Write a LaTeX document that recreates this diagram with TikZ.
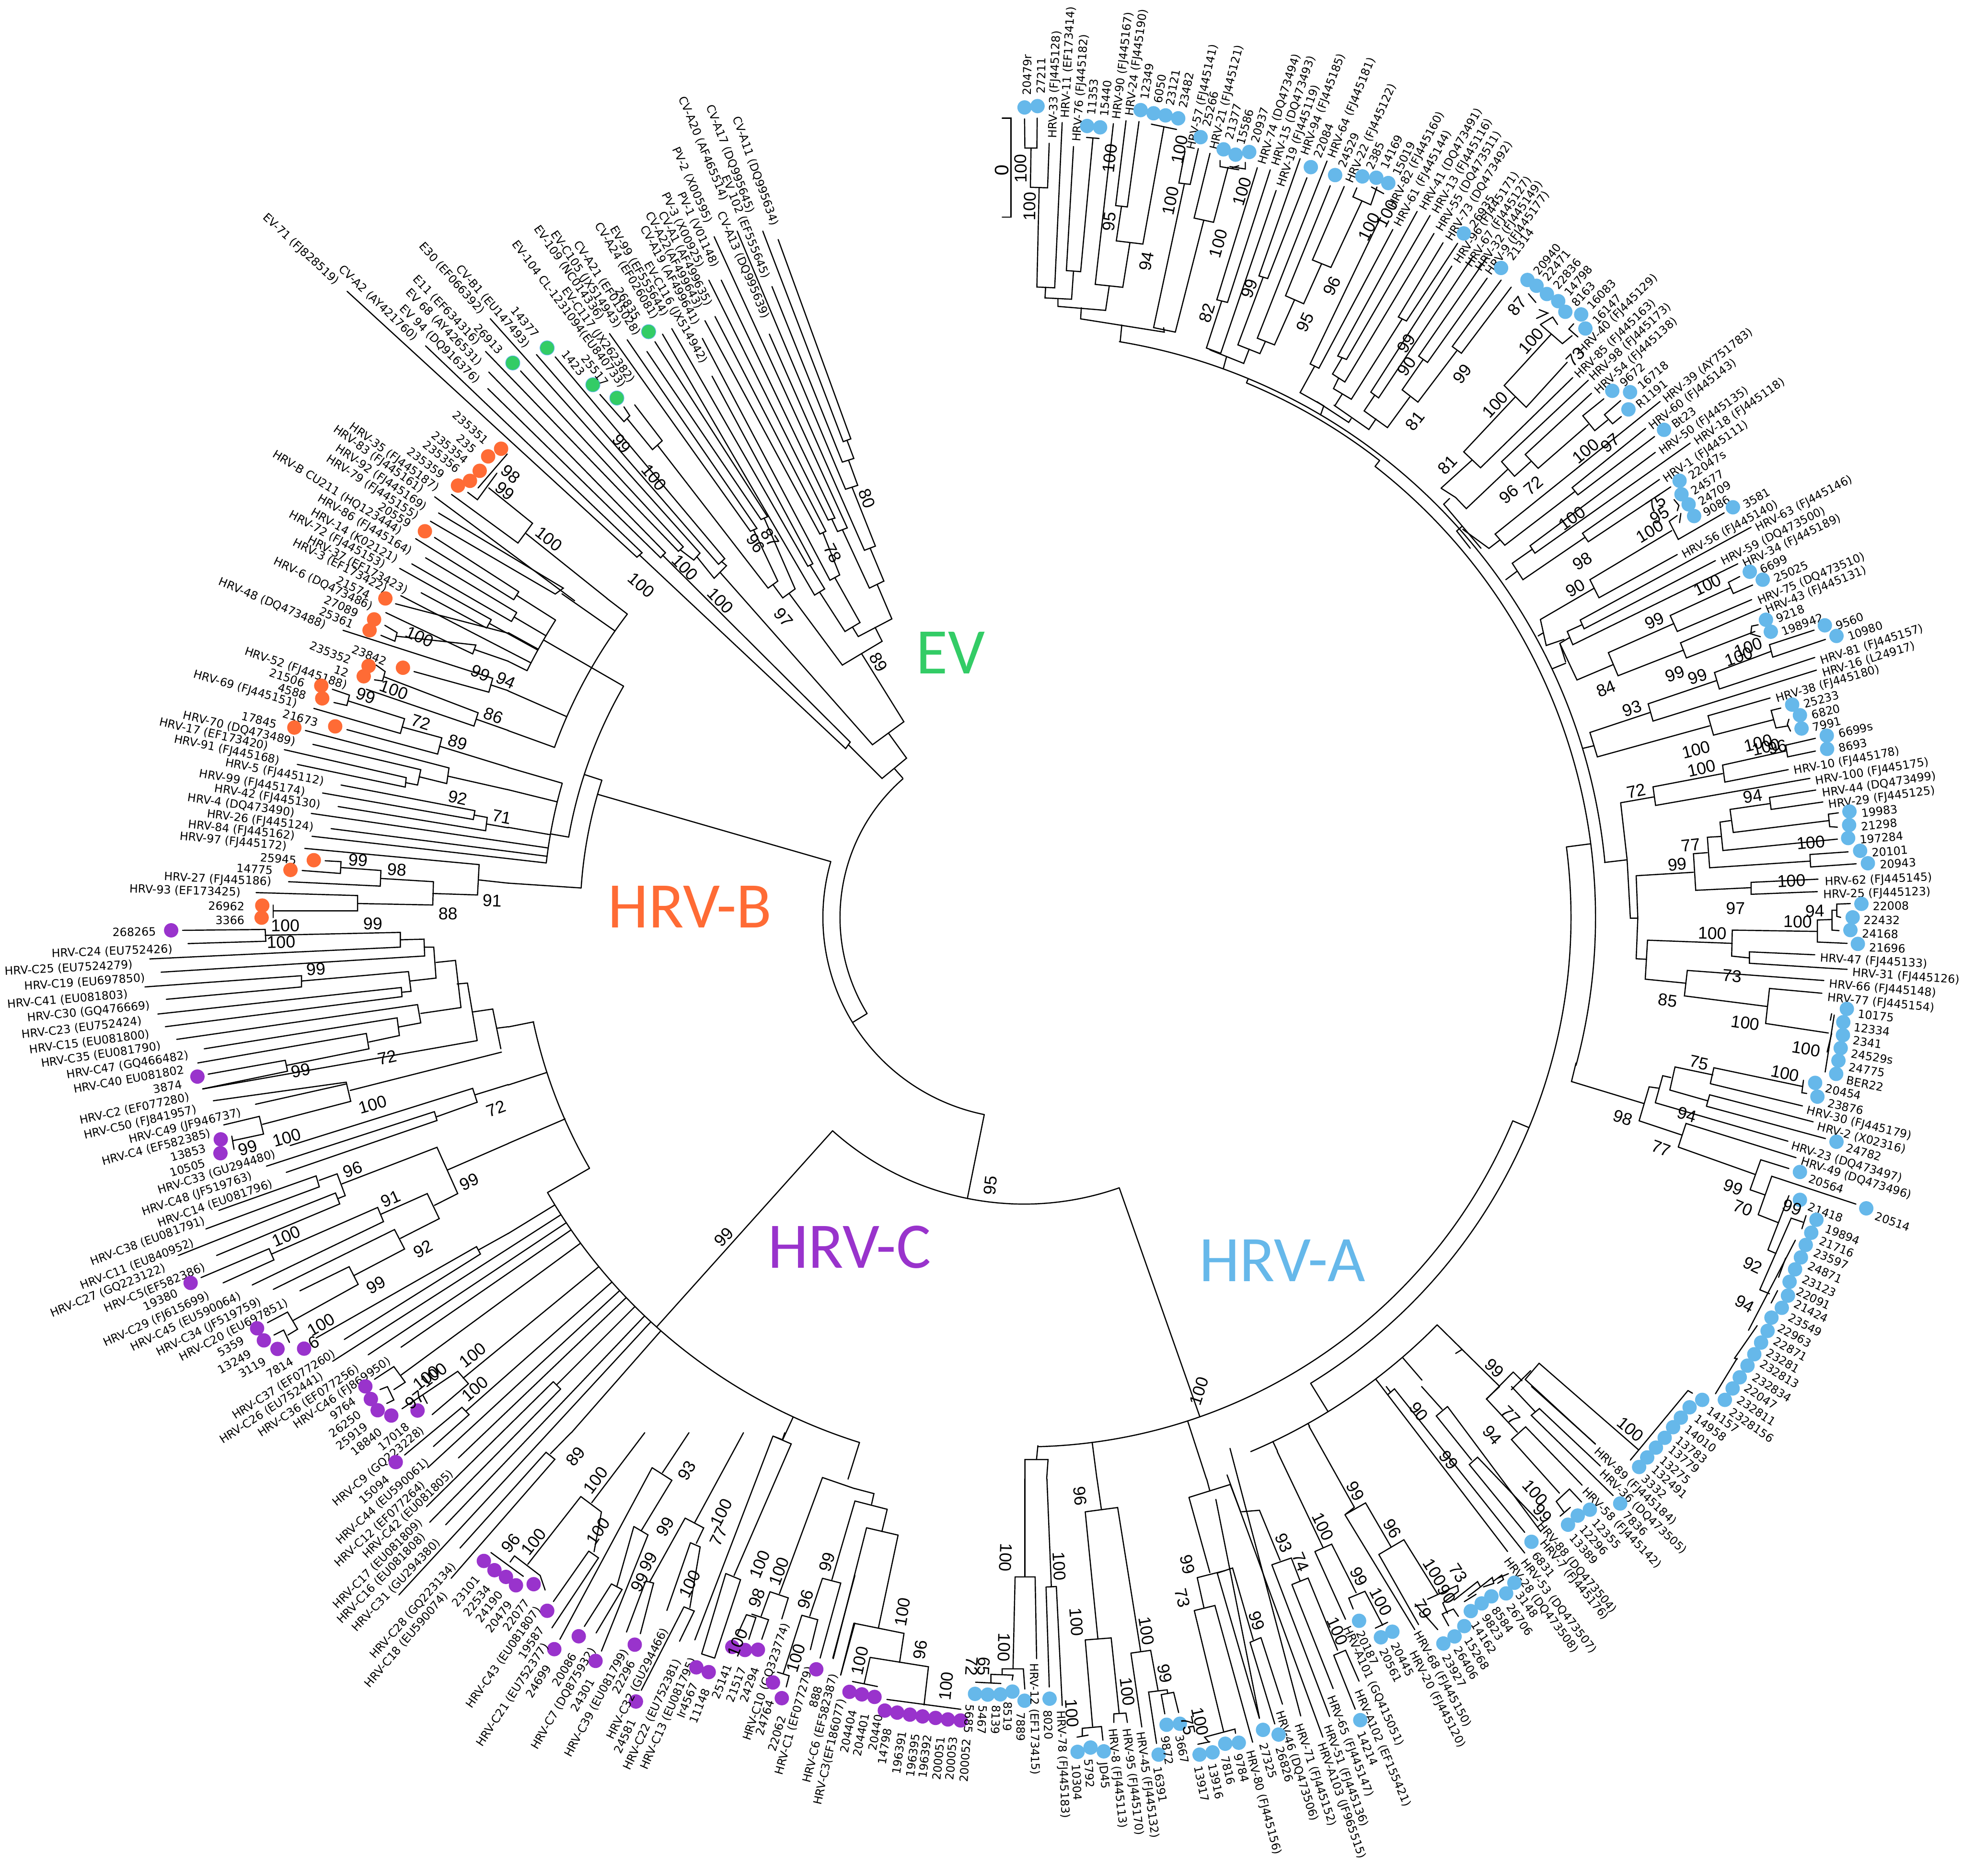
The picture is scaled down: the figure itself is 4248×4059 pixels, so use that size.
\documentclass[tikz,border=0pt]{standalone}
\usepackage{fontspec}
\setmainfont{DejaVu Sans}
\newfontfamily\supf{Liberation Sans}
\newfontfamily\capf{Carlito}
\definecolor{hA}{HTML}{66B8EA}
\definecolor{hB}{HTML}{FF6B35}
\definecolor{hC}{HTML}{9933CC}
\definecolor{hE}{HTML}{33CC66}
\newcount\nn
\def\thr{-94.7}
\def\dcol{hA}
\tikzset{
 zoomto/.style n args={4}{shift={(#1,#2)},xscale=#3/1568,yscale=#4/1568,
   /utils/exec={\def\zx{#1}\def\zy{#2}\def\zw{#3}\def\zh{#4}}},
 tr/.style={draw=black,line width=0.72pt,line cap=round,line join=miter},
 tipn/.style={inner sep=0pt,font=\fontsize{7}{8}\selectfont},
 supn/.style={inner sep=0pt,font=\supf\fontsize{10.5}{12}\selectfont},
 dotn/.style={circle,inner sep=0pt,minimum size=0.31cm,draw=none},
 capn/.style={inner sep=0pt,font=\capf\fontsize{40}{44}\selectfont}
}
\newcommand\Ln{\draw[tr]}
\newcommand\GetA[2]{\pgfmathsetmacro\ang{atan2(1985-(\zy+(#2)/1568*\zh),(\zx+(#1)/1568*\zw)-2216)}%
 \pgfmathtruncatemacro\isl{(\ang>95||\ang<\thr)?1:0}%
 \ifnum\isl=1 \pgfmathsetmacro\rot{\ang>0?\ang-180:\ang+180}\def\anc{east}\else\let\rot\ang\def\anc{west}\fi}
\newcommand\Lb[3]{\GetA{#1}{#2}\global\advance\nn by 1
 \node[tipn,rotate=\rot,anchor=\anc] (t\the\nn) at (#1,#2) {#3};}
\newcommand\Dt[2]{\global\advance\nn by 1
 \node[dotn,fill=\dcol] (d\the\nn) at (#1,#2) {};}
\newcommand\Dl[5]{\Dt{#1}{#2}\Lb{#3}{#4}{#5}}
\newcommand\Bv[3]{\GetA{#1}{#2}\global\advance\nn by 1
 \node[supn,rotate=\rot] (s\the\nn) at (#1,#2) {#3};}
\newcommand\Ac[3]{\pgfmathsetmacro\rr{#1/100}\draw[tr] ([shift={(O)}]#2:\rr cm) arc[start angle=#2,end angle=#3,radius=\rr cm];}
\newcommand\Rd[3]{\pgfmathsetmacro\rra{#2/100}\pgfmathsetmacro\rrb{#3/100}\draw[tr] ([shift={(O)}]#1:\rra cm) -- ([shift={(O)}]#1:\rrb cm);}
\begin{document}
\begin{tikzpicture}[x=0.01cm,y=-0.01cm]
\useasboundingbox (0,0) rectangle (4248,4059);
\coordinate (O) at (2216,1985);
%% trunk
\Ac{398}{131.1}{211.5}\Rd{211.5}{398}{435}
\Ac{435}{163.9}{258.6}\Rd{258.6}{435}{620}
\Ac{620}{-131.9}{-70.6}
\Rd{-70.6}{620}{1145}\Ac{1145}{-88.5}{-22.6}\Rd{-22.6}{1145}{1183}
\Ac{1183}{7.4}{-58.4}\Rd{-58.4}{1183}{1255}\Ac{1255}{-67}{-44.6}
\Rd{7.4}{1183}{1236}\Ac{1236}{52.1}{-15}\Rd{52.1}{1236}{1252}\Ac{1252}{67.4}{52.1}\Rd{67.4}{1252}{1262}\Ac{1262}{80.6}{5.4}
\Rd{-82.6}{1145}{1225}\Rd{-72}{1145}{1277}
\Rd{-64.6}{1255}{1278}\Rd{-60.7}{1255}{1262}
\Ln (2218,3200)--(2218,3158)--(2268,3158)--(2265,3200);
\Ln (2243,3158)--(2246,3128);
\Rd{-52.7}{1255}{1298}\Rd{-49.3}{1255}{1320}\Rd{-44.6}{1255}{1331}
%% B trunk
\Rd{163.9}{435}{960}\Ac{960}{162}{176.2}\Rd{162}{960}{1000}\Ac{1000}{150}{170}
\Rd{176.2}{960}{1118}\Rd{170}{1000}{1040}\Ac{1040}{163.8}{173.5}
\Rd{163.8}{1040}{1162}\Rd{166.1}{1040}{1153}\Rd{170.1}{1040}{1133}
\Rd{171.7}{1558}{1040}\Rd{172.7}{1511}{1040}\Rd{173.5}{1550}{1040}
\Rd{150}{1000}{1080}\Ac{1080}{142.6}{160.1}
\Rd{142.6}{1136}{1080}\Rd{145}{1220}{1080}\Rd{150}{1200}{1080}\Rd{156.3}{1219}{1080}\Rd{160.1}{1187}{1080}
\Ac{1200}{147.6}{153.6}\Rd{153.6}{1246}{1200}\Rd{151.1}{1274}{1200}
\Rd{147.2}{1517}{1300}\Rd{148.1}{1550}{1300}\Ac{1300}{147.2}{148.1}\Rd{147.6}{1300}{1200}
\Rd{149}{1510}{1280}\Rd{150}{1529}{1280}\Ac{1280}{149}{150}\Rd{149.5}{1280}{1200}
\Rd{150.8}{1547}{1320}\Rd{151.7}{1481}{1320}\Ac{1320}{150.8}{151.7}\Rd{151.2}{1320}{1200}
\Rd{152.7}{1517}{1200}
%% C trunk
\Rd{-131.9}{620}{1190}\Ac{1190}{-107.4}{-150}\Rd{-150}{1190}{1085}\Ac{1085}{-150}{-168}
\Ln (1100,2222)--(1155,2211);
\Ln (1100,2474)--(1223,2421);
\Rd{-162}{1173}{1085}
\Rd{-148.5}{1309}{1190}\Rd{-146.3}{1705}{1190}\Rd{-145.4}{1637}{1190}\Rd{-147.3}{1777}{1190}
\Rd{-143.7}{1673}{1190}\Rd{-140.6}{1570}{1190}\Rd{-138.5}{1612}{1190}
\Rd{-136.3}{1692}{1190}\Rd{-137.3}{1755}{1190}
\Rd{-135.4}{1815}{1430}\Rd{-134.5}{1834}{1430}\Ac{1430}{-135.4}{-134.5}\Rd{-135}{1430}{1190}
\Rd{-133.6}{1814}{1190}\Rd{-132.7}{1994}{1190}\Rd{-131.3}{1484}{1190}
\Rd{-114.8}{1245}{1190}\Rd{-107.4}{1273}{1190}
%% EV base in zoom 11 coordinates
\begin{scope}[zoomto={1500}{1400}{1300}{1300}]
\Ln (-140,-240)--(398,265)--(410,248)--(-80,-240);
\Ln (405,255)--(493,343)--(557,290)--(510,225);
\Ln (71,-194)--(468,255)--(550,195)--(440,18);
\Ln (525,317)--(547,342);
\end{scope}
%% ================= EV fan
\begin{scope}[zoomto={1400}{500}{600}{950}]
\Ln (655,0)--(1110,752)--(1153,742)--(742,30);
\Ln (1132,748)--(1170,812)--(1105,825)--(707,198);
\Ln (1140,818)--(1192,908)--(1123,922)--(510,0);
\Ln (1160,915)--(1292,1125)--(1230,1140)--(692,368);
\Ln (1262,1132)--(1340,1250)--(1258,1275)--(1105,1066);
\Ln (1302,1262)--(1385,1385)--(1195,1448)--(1162,1414);
\Ln (1290,1415)--(1330,1465)--(1105,1550)--(804,1294);
\Ln (380,20)--(1133,1060)--(1078,1073)--(1045,1028);
\Ln (420,175)--(1063,1025)--(1025,1032)--(350,175);
\Ln (385,305)--(1012,1072)--(978,1082)--(328,320);
\Ln (995,1077)--(1090,1228)--(1035,1247)--(313,383);
\Ln (1062,1237)--(1205,1398)--(1120,1430)--(977,1290);
\Ln (88,368)--(948,1300)--(1005,1278)--(923,1193);
\Ln (140,348)--(910,1197)--(938,1188)--(368,518);
\Ln (45,395)--(682,1020)--(645,1030)--(0,430);
\Ln (663,1025)--(838,1278)--(768,1310)--(712,1262);
\Ln (-112,388)--(622,1062)--(585,1072)--(-212,366);
\Ln (603,1067)--(740,1250)--(685,1275)--(60,765);
\Ln (188,1138)--(265,1175)--(300,1150)--(-886,313);
\Ln (282,1163)--(380,1240)--(450,1195)--(422,1180);
\Ln (-625,441)--(405,1190)--(440,1170)--(-519,449);
\Bv{1245}{955}{80}\Bv{1050}{1150}{78}\Bv{695}{1095}{87}\Bv{615}{1115}{96}\Bv{772}{1380}{97}\Bv{415}{1320}{100}
\end{scope}
\begin{scope}[zoomto={0}{0}{4248}{4248}]
\def\dcol{hE}
\Lb{579}{160}{CV-A20 (AF465514)}
\Lb{600}{170}{CV-A17 (DQ995645)}
\Lb{619}{180}{CV-A11 (DQ995634)}
\Lb{612}{222}{EV 102 (EF555645)}
\Lb{612}{254}{CV-A13 (DQ995639)}
\end{scope}
%% ================= zoom 10 : EV lower + B upper
\begin{scope}[zoomto={500}{300}{1100}{1000}]
\Ln (358,518)--(1252,1420)--(1268,1405)--(600,703);
\Ln (792,848)--(1325,1422)--(1340,1405)--(795,792);
\Ln (785,722)--(1380,1400)--(1395,1385)--(893,788);
\Ln (1138,868)--(1212,960)--(1230,940)--(1212,910);
\Ln (1222,950)--(1300,1055)--(1330,1025)--(1245,903);
\Ln (680,1207)--(885,1372)--(930,1305)--(795,1185);
\Ln (730,1200)--(760,1225)--(820,1135);
\Ln (762,1185)--(852,1070);
\Ln (910,1340)--(1160,1560);
\Ln (640,1270)--(1025,1525)--(1000,1545)--(615,1298);
\Ln (628,1215)--(1060,1568);
\def\dcol{hE}
\tikzset{dotn/.append style={draw=hA,line width=0.35pt}}
\Lb{327}{490}{EV-71 (FJ828519)}
\Lb{570}{680}{CV-A2 (AY421760)}
\Lb{775}{590}{E30 (EF066392)}
\Lb{762}{695}{E11 (EF634316)}
\Lb{768}{765}{EV 68 (AY426531)}
\Lb{762}{825}{EV 94 (DQ916376)}
\Lb{915}{705}{CV-B1 (EU147493)}
\Dl{869}{761}{833}{725}{26913}
\Dl{975}{710}{943}{670}{14377}
\Lb{1210}{840}{EV-104 CL-1231094(EU840733)}
\Lb{1143}{612}{EV-109 (NC014336)}
\Lb{1195}{640}{EV-C105 (JX514943)}
\Lb{1255}{665}{CV-A21 (EF015028)}
\Lb{1237}{825}{EV-C117 (JX262382)}
\Lb{1310}{610}{CV-A24 (EF026081)}
\Lb{1340}{600}{EV-99 (EF555644)}
\Dl{1288}{655}{1255}{612}{26835}
\Dl{1116}{835}{1085}{800}{1423}
\Dl{1190}{880}{1158}{835}{25517}
\Lb{1475}{285}{PV-2 (X00595)}
\Lb{1495}{435}{PV-1 (V01148)}
\Lb{1450}{435}{PV-3 (X00925)}
\Lb{1475}{565}{CV-A1 (AF499635)}
\Lb{1445}{575}{CV-A22(AF499643)}
\Lb{1437}{630}{CV-A19 (AF499641)}
\Lb{1460}{760}{EV-C116 (JX514942)}
\Bv{1205}{1035}{99}\Bv{1305}{1150}{100}\Bv{1400}{1455}{100}\Bv{1265}{1515}{100}
\tikzset{dotn/.style={circle,inner sep=0pt,minimum size=0.31cm,draw=none}}
\def\dcol{hB}
\Lb{637}{1190}{HRV-35 (FJ445187)}
\Lb{590}{1195}{HRV-83 (FJ445161)}
\Lb{600}{1255}{HRV-92 (FJ445169)}
\Lb{575}{1285}{HRV-79 (FJ445155)}
\Dl{833}{1052}{790}{1030}{235351}
\Dl{793}{1078}{752}{1060}{235}
\Dl{767}{1127}{728}{1095}{235354}
\Dl{737}{1161}{655}{1145}{235359}
\Dl{700}{1177}{703}{1125}{235356}
\Dl{598}{1332}{553}{1310}{20559}
\Lb{525}{1335}{HRV-B CU211 (HQ123444)}
\Lb{555}{1405}{HRV-86 (FJ445164)}
\Lb{512}{1430}{HRV-14 (K02121)}
\Lb{473}{1450}{HRV-72 (FJ445153)}
\Lb{543}{1535}{HRV-37 (EF173423)}
\Lb{480}{1530}{HRV-3 (EF173422)}
\Dl{476}{1560}{428}{1550}{21574}
\Bv{863}{1138}{98}\Bv{845}{1195}{99}\Bv{980}{1358}{100}
\end{scope}
%% ================= zoom 9 : B lower, C upper
\begin{scope}[zoomto={0}{1300}{1100}{1000}]
\def\dcol{hB}
\Ln (1187,83)--(1225,108)--(1218,137)--(1175,117);
\Ln (1222,120)--(1468,150)--(1458,180)--(1190,40);
\Ln (1463,165)--(1568,205);
\Ln (1220,10)--(1568,110);
\Ln (1155,268)--(1180,272)--(1188,240)--(1160,218);
\Ln (1185,258)--(1475,380)--(1462,425)--(1130,300);
\Ln (1470,402)--(1568,440);
\Ln (1277,240)--(1508,310)--(1520,263)--(1058,100);
\Ln (1513,285)--(1568,305);
\Ln (1025,300)--(1078,320)--(1070,355)--(1030,345);
\Ln (1075,340)--(1248,400)--(1235,450)--(968,365);
\Ln (1240,428)--(1363,465)--(1350,520)--(1070,437);
\Ln (1355,493)--(1568,565);
\Ln (942,440)--(1385,567)--(1378,620)--(1293,597);
\Ln (965,487)--(1298,573)--(1288,625)--(1252,617);
\Ln (877,505)--(1253,600)--(1250,632)--(917,555);
\Ln (1382,595)--(1563,640);
\Ln (1052,625)--(1465,712)--(1460,742)--(995,652);
\Ln (1463,727)--(1503,735)--(1498,780)--(1043,698);
\Ln (1500,757)--(1568,770);
\Ln (940,840)--(1478,895)--(1473,998)--(1335,993);
\Ln (1477,947)--(1568,958);
\Ln (1003,882)--(1052,885)--(1050,925)--(932,915);
\Ln (1052,905)--(1175,915)--(1173,968)--(890,953);
\Ln (1175,942)--(1337,953)--(1335,1032)--(1103,1027);
\Ln (790,990)--(1103,1000)--(1103,1052)--(843,1052);
\Ln (843,1032)--(843,1075);
\Lb{1148}{22}{HRV-6 (DQ473486)}
\Dl{1154}{63}{1105}{45}{27089}
\Dl{1140}{100}{1090}{82}{25361}
\Lb{1005}{85}{HRV-48 (DQ473488)}
\Dl{1243}{227}{1192}{208}{23842}
\Dl{1137}{221}{1083}{203}{235352}
\Dl{1122}{256}{1075}{248}{12}
\Lb{1070}{290}{HRV-52 (FJ445188)}
\Dl{991}{288}{940}{280}{21506}
\Dl{994}{331}{945}{322}{4588}
\Lb{917}{352}{HRV-69 (FJ445151)}
\Dl{1034}{426}{982}{415}{21673}
\Dl{908}{430}{855}{420}{17845}
\Lb{912}{480}{HRV-70 (DQ473489)}
\Lb{828}{495}{HRV-17 (EF173420)}
\Lb{863}{545}{HRV-91 (FJ445168)}
\Lb{1000}{615}{HRV-5 (FJ445112)}
\Lb{942}{650}{HRV-99 (FJ445174)}
\Lb{990}{695}{HRV-42 (FJ445130)}
\Lb{910}{720}{HRV-4 (DQ473490)}
\Lb{968}{770}{HRV-26 (FJ445124)}
\Lb{910}{800}{HRV-84 (FJ445162)}
\Lb{885}{835}{HRV-97 (FJ445172)}
\Dl{968}{880}{915}{880}{25945}
\Dl{896}{913}{842}{915}{14775}
\Lb{838}{955}{HRV-27 (FJ445186)}
\Lb{743}{990}{HRV-93 (EF173425)}
\Dl{809}{1034}{755}{1037}{26962}
\Dl{807}{1075}{755}{1083}{3366}
\Bv{1295}{122}{100}\Bv{1482}{245}{99}\Bv{1560}{270}{94}\Bv{1128}{322}{99}\Bv{1215}{302}{100}
\Bv{1522}{390}{86}\Bv{1298}{412}{72}\Bv{1412}{480}{89}\Bv{1412}{668}{92}\Bv{1548}{733}{71}
\Bv{1105}{880}{99}\Bv{1225}{912}{98}\Bv{1518}{1017}{91}\Bv{1382}{1062}{88}\Bv{880}{1102}{100}
%% C
\def\dcol{hC}
\Ln (563,1118)--(818,1115)--(820,1155)--(580,1163);
\Ln (818,1135)--(1235,1125)--(1235,1175)--(462,1215);
\Ln (1235,1150)--(1308,1148)--(1310,1205)--(497,1260);
\Ln (1310,1175)--(1338,1175)--(1345,1280)--(1265,1290);
\Ln (447,1310)--(930,1272)--(930,1310)--(513,1352);
\Ln (930,1290)--(1260,1258)--(1268,1325)--(1240,1328);
\Ln (487,1402)--(1238,1312)--(1240,1343)--(510,1445);
\Ln (545,1488)--(1288,1370)--(1298,1432)--(1230,1446);
\Ln (630,1520)--(1225,1415)--(1232,1475)--(1138,1497);
\Ln (610,1568)--(1130,1468)--(1138,1520)--(885,1576);
\Ln (642,1606)--(880,1559)--(887,1596)--(625,1656);
\Ln (1345,1227)--(1405,1220)--(1422,1380)--(1298,1400);
\Ln (1410,1300)--(1442,1297)--(1472,1492);
\Ln (1458,1395)--(1520,1385)--(1545,1520);
\Ln (1533,1450)--(1568,1445);
\Dl{528}{1118}{482}{1122}{268265}
\Lb{533}{1182}{HRV-C24 (EU752426)}
\Lb{410}{1235}{HRV-C25 (EU7524279)}
\Lb{448}{1280}{HRV-C19 (EU697850)}
\Lb{395}{1335}{HRV-C41 (EU081803)}
\Lb{463}{1373}{HRV-C30 (GQ476669)}
\Lb{438}{1425}{HRV-C23 (EU752424)}
\Lb{462}{1470}{HRV-C15 (EU081800)}
\Lb{497}{1510}{HRV-C35 (EU081790)}
\Bv{1150}{1095}{99}\Bv{867}{1158}{100}\Bv{975}{1250}{99}
\end{scope}
%% ================= zoom 8 : C left
\begin{scope}[zoomto={0}{2200}{1100}{1000}]
\def\dcol{hC}
\Ln (1472,81)--(625,245);
\Ln (1547,120)--(1080,250);
\Ln (658,285)--(1068,222)--(1082,287)--(810,365);
\Ln (788,297)--(1068,228);
\Ln (690,367)--(800,338)--(813,398)--(720,420);
\Ln (715,405)--(722,450);
\Ln (895,437)--(1458,243)--(1472,290)--(1345,340);
\Ln (822,507)--(1340,322)--(1348,352)--(883,528);
\Ln (1465,265)--(1568,230);
\Ln (1055,567)--(1348,443)--(1412,600)--(1340,640);
\Ln (1380,520)--(1568,430);
\Ln (985,555)--(1040,533)--(1065,607)--(1042,617);
\Ln (675,657)--(975,540)--(985,577)--(635,720);
\Ln (550,810)--(1035,598)--(1048,635)--(668,810);
\Ln (620,885)--(830,787)--(845,825)--(688,903);
\Ln (838,805)--(1165,647)--(1183,695)--(778,910);
\Ln (1175,670)--(1318,600)--(1355,685)--(1235,752);
\Ln (843,925)--(1217,722)--(1248,788)--(1092,878);
\Ln (925,930)--(1077,848)--(1105,908)--(905,1030);
\Ln (825,1038)--(887,1002)--(918,1060)--(888,1080);
\Ln (845,1080)--(875,1063)--(893,1105);
\Ln (975,1090)--(1470,780)--(1482,805)--(1062,1095);
\Ln (1478,790)--(1568,735);
\Ln (1155,1230)--(1215,1187)--(1250,1240)--(1215,1265);
\Ln (1172,1265)--(1195,1255)--(1215,1300)--(1193,1312);
\Ln (1240,1330)--(1412,1203)--(1445,1245)--(1333,1350);
\Ln (1305,1285)--(1318,1312);
\Ln (1248,1487)--(1425,1325)--(1447,1350)--(1337,1458);
\Lb{582}{130}{HRV-C47 (GQ466482)}
\Lb{568}{178}{HRV-C40 EU081802}
\Dl{609}{203}{562}{228}{3874}
\Lb{585}{272}{HRV-C2 (EF077280)}
\Lb{607}{315}{HRV-C50 (FJ841957)}
\Lb{745}{325}{HRV-C49 (JF946737)}
\Lb{650}{395}{HRV-C4 (EF582385)}
\Dl{681}{416}{635}{445}{13853}
\Dl{680}{463}{633}{495}{10505}
\Lb{850}{465}{HRV-C33 (GU294480)}
\Lb{778}{540}{HRV-C48 (JF519763)}
\Lb{840}{565}{HRV-C14 (EU081796)}
\Lb{632}{690}{HRV-C38 (EU081791)}
\Lb{598}{765}{HRV-C11 (EU840952)}
\Lb{510}{850}{HRV-C27 (GQ223122)}
\Lb{632}{848}{HRV-C5(EF582386)}
\Dl{588}{903}{547}{935}{19380}
\Lb{645}{945}{HRV-C29 (FJ615699)}
\Lb{742}{945}{HRV-C45 (EU590064)}
\Lb{805}{965}{HRV-C34 (JF519759)}
\Lb{887}{968}{HRV-C20 (EU697851)}
\Dl{793}{1057}{752}{1095}{5359}
\Dl{814}{1098}{773}{1140}{13249}
\Dl{856}{1127}{818}{1165}{3119}
\Dl{938}{1126}{902}{1165}{7814}
\Lb{1032}{1140}{HRV-C37 (EF077260)}
\Lb{995}{1215}{HRV-C26 (EU752441)}
\Lb{1105}{1190}{HRV-C36 (EF077256)}
\Lb{1203}{1165}{HRV-C46 (FJ869950)}
\Dl{1127}{1254}{1095}{1300}{9764}
\Dl{1144}{1297}{1110}{1345}{26250}
\Dl{1165}{1335}{1130}{1385}{25919}
\Dl{1207}{1353}{1175}{1403}{18840}
\Dl{1288}{1336}{1258}{1385}{17018}
\Lb{1305}{1398}{HRV-C9 (GQ223228)}
\Bv{1195}{138}{72}\Bv{928}{183}{99}\Bv{1150}{298}{100}\Bv{1530}{312}{72}\Bv{885}{410}{100}
\Bv{765}{445}{99}\Bv{1088}{518}{96}\Bv{1448}{560}{99}\Bv{1205}{618}{91}\Bv{883}{745}{100}
\Bv{1305}{788}{92}\Bv{1160}{910}{99}\Bv{990}{1045}{100}\Bv{968}{1105}{6}\Bv{1458}{1148}{100}
\Bv{1315}{1225}{100}\Bv{1338}{1215}{100}\Bv{1280}{1300}{97}\Bv{1465}{1262}{100}
\end{scope}
%% ================= zoom 7 : C bottom
\begin{scope}[zoomto={850}{3100}{1000}{950}]
\def\dcol{hC}
\Ln (605,0)--(535,75);
\Ln (228,412)--(520,70)--(550,95)--(198,520);
\Ln (1322,25)--(1290,12)--(1352,40)--(1158,510);
\Ln (1330,0)--(1322,25);
\Ln (1290,12)--(1025,740);
\Ln (1190,0)--(1025,320);
\Ln (1130,503)--(1180,525)--(1092,805);
\Ln (1130,503)--(1048,790);
\Ln (1048,790)--(1092,805);
\Ln (992,305)--(1055,340)--(1030,395);
\Ln (992,305)--(872,532);
\Ln (858,530)--(793,712);
\Ln (858,530)--(885,537)--(840,718);
\Ln (1010,393)--(1043,408)--(1008,625);
\Ln (1010,393)--(930,635);
\Ln (988,622)--(1023,637)--(973,745);
\Ln (988,622)--(843,920);
\Ln (1005,0)--(915,143);
\Ln (880,125)--(947,170)--(843,350);
\Ln (880,125)--(567,738);
\Ln (818,335)--(866,365)--(708,780);
\Ln (818,335)--(760,550);
\Ln (742,540)--(778,560)--(690,715);
\Ln (742,540)--(650,692);
\Ln (855,0)--(675,250);
\Ln (638,228)--(708,283)--(683,425);
\Ln (638,228)--(458,470);
\Ln (665,423)--(698,447)--(540,697);
\Ln (665,423)--(545,603);
\Ln (413,440)--(500,510)--(517,562);
\Ln (413,440)--(398,462);
\Ln (333,428)--(443,513);
\Ln (1458,160)--(1568,200);
\Ln (1458,160)--(1312,575);
\Ln (1280,568)--(1342,590)--(1320,665);
\Ln (1280,568)--(1250,655);
\Ln (1218,648)--(1275,668)--(1252,738);
\Ln (1200,650)--(1232,660)--(1208,738);
\Ln (1200,650)--(1170,720);
\Ln (1388,652)--(1325,860);
\Ln (1305,855)--(1345,868)--(1335,908);
\Ln (1490,525)--(1568,245);
\Ln (1458,520)--(1520,537)--(1450,805);
\Ln (1458,520)--(1415,655);
\Ln (1388,652)--(1442,668)--(1417,775);
\Ln (1568,510)--(1493,805);
\Ln (1568,680)--(1520,865);
\Lb{118}{100}{HRV-C44 (EU590061)}
\Lb{105}{180}{HRV-C12 (EF077264)}
\Lb{200}{140}{HRV-C42 (EU081805)}
\Lb{95}{315}{HRV-C17 (EU081809)}
\Lb{105}{365}{HRV-C16 (EU081808)}
\Lb{155}{385}{HRV-C31 (GU294380)}
\Lb{208}{470}{HRV-C28 (GQ223134)}
\Lb{180}{575}{HRV-C18 (EU590074)}
\Dt{10}{105}\Lb{-16}{160}{15094}
\Dl{309}{458}{288}{515}{23101}
\Dl{345}{491}{325}{548}{22534}
\Dl{384}{515}{365}{570}{24190}
\Dl{418}{545}{398}{605}{20479}
\Dl{478}{541}{455}{598}{22077}
\Lb{495}{625}{HRV-C43 (EU081807)}
\Dl{524}{636}{505}{695}{19587}
\Dl{548}{773}{528}{832}{24699}
\Lb{520}{755}{HRV-C21 (EU752377)}
\Dl{631}{727}{615}{790}{20086}
\Lb{680}{770}{HRV-C7 (DQ875932)}
\Dl{688}{815}{675}{880}{24301}
\Lb{790}{775}{HRV-C39 (EU081799)}
\Dl{821}{757}{812}{815}{22296}
\Dl{825}{960}{815}{1025}{24581}
\Lb{925}{700}{HRV-C32 (GU294466)}
\Lb{968}{810}{HRV-C22 (EU752381)}
\Lb{1020}{805}{HRV-C13 (EU081795)}
\Dl{1030}{838}{1025}{895}{Ir4567}
\Dl{1072}{855}{1065}{915}{11148}
\Dl{1152}{765}{1140}{828}{25141}
\Dl{1195}{776}{1187}{838}{21517}
\Dl{1239}{775}{1232}{838}{24294}
\Lb{1335}{680}{HRV-C10 (GQ323774)}
\Dl{1290}{892}{1282}{955}{24764}
\Dl{1320}{948}{1322}{1012}{22062}
\Lb{1415}{835}{HRV-C1 (EF077279)}
\Dl{1437}{845}{1445}{905}{888}
\Lb{1498}{860}{HRV-C6 (EF582387)}
\Lb{1525}{950}{HRV-C3(EF186077)}
\Bv{620}{85}{89}\Bv{688}{170}{100}\Bv{998}{135}{93}\Bv{697}{352}{100}\Bv{925}{335}{99}
\Bv{1115}{285}{100}\Bv{1105}{370}{77}\Bv{478}{390}{100}\Bv{400}{395}{96}\Bv{1008}{540}{100}
\Bv{868}{460}{99}\Bv{838}{535}{99}\Bv{1245}{470}{100}\Bv{1310}{495}{100}\Bv{1235}{590}{98}
\Bv{1170}{750}{100}\Bv{1400}{595}{96}\Bv{1473}{462}{99}\Bv{1368}{805}{100}
\end{scope}
%% ================= zoom 6 : bottom
\begin{scope}[zoomto={1800}{3200}{1000}{859}]
\def\dcol{hC}\def\thr{-90}
\Ln (78,38)--(143,58)--(135,100);
\Ln (78,87)--(188,120)--(170,208);
\Ln (118,193)--(225,222)--(158,590);
\Ln (118,193)--(5,710);
\Ln (75,570)--(245,610)--(230,725);
\Ln (75,570)--(30,775);
\Ln (130,705)--(328,742)--(313,893);
\Ln (130,705)--(110,808);
\Ln (70,800)--(155,820);
\Ln (187,871)--(438,910);
\Dl{60}{841}{72}{912}{204404}
\Dl{102}{851}{115}{925}{204401}
\Dl{145}{861}{160}{930}{20440}
\Dl{180}{915}{190}{985}{14798}
\Dl{222}{923}{240}{995}{196391}
\Dl{265}{931}{285}{1005}{196395}
\Dl{308}{938}{325}{1010}{196392}
\Dl{352}{944}{370}{1018}{200051}
\Dl{394}{950}{412}{1018}{200053}
\Dl{437}{954}{458}{1025}{200052}
\Bv{240}{525}{100}\Bv{95}{718}{100}\Bv{300}{675}{96}\Bv{388}{818}{100}
\def\dcol{hA}\def\thr{-100}
\Ln (578,772)--(578,750)--(650,750)--(655,830);
\Ln (540,805)--(540,772)--(615,775)--(612,795);
\Ln (488,803)--(574,808);
\Ln (622,387)--(690,387)--(695,710);
\Ln (622,387)--(615,750);
\Ln (655,385)--(655,0);
\Ln (730,0)--(745,425);
\Ln (727,427)--(762,425)--(782,895);
\Ln (727,427)--(738,822);
\Ln (900,0)--(915,122);
\Ln (860,130)--(970,113)--(1048,680);
\Ln (860,130)--(903,632);
\Ln (860,636)--(948,628)--(975,925);
\Ln (860,636)--(885,978);
\Ln (850,1015)--(850,985)--(915,978)--(920,1032);
\Ln (832,1020)--(870,1012);
\Ln (957,962)--(957,928)--(998,925)--(1003,962);
\Ln (1015,688)--(1082,677)--(1107,835);
\Ln (1015,688)--(1052,980);
\Ln (1102,1045)--(1075,842)--(1138,833)--(1140,848);
\Ln (1130,928)--(1118,852)--(1160,843)--(1177,923);
\Ln (1272,0)--(1283,48);
\Ln (1212,73)--(1352,22)--(1388,132);
\Ln (1212,73)--(1283,370);
\Ln (1240,390)--(1335,362);
\Ln (1240,390)--(1263,510);
\Ln (1308,372)--(1360,352)--(1430,635);
\Ln (1308,372)--(1451,946);
\Ln (1230,520)--(1300,500)--(1428,1040);
\Ln (1230,520)--(1330,1000);
\Ln (1280,1040)--(1265,1020)--(1368,988)--(1370,1005);
\Ln (1242,1048)--(1283,1038);
\Lb{470}{890}{5685}
\Dt{486}{849}
\Dl{529}{852}{513}{893}{5467}
\Dl{572}{851}{558}{893}{8139}
\Dl{613}{840}{598}{880}{8519}
\Dl{654}{876}{642}{920}{7889}
\Lb{685}{728}{HRV-12 (EF173415)}
\Dl{739}{868}{733}{913}{8020}
\Lb{775}{915}{HRV-78 (FJ445183)}
\Dl{834}{1078}{828}{1125}{10304}
\Dl{878}{1061}{870}{1105}{5792}
\Dl{923}{1076}{918}{1118}{JD45}
\Lb{950}{985}{HRV-8 (FJ445113)}
\Lb{998}{985}{HRV-95 (FJ445170)}
\Lb{1045}{998}{HRV-45 (FJ445132)}
\Dl{1109}{1089}{1105}{1135}{16391}
\Dl{1136}{971}{1130}{1015}{9872}
\Dl{1181}{967}{1180}{1010}{3667}
\Dl{1248}{1089}{1243}{1133}{13917}
\Dl{1292}{1080}{1290}{1123}{13916}
\Dl{1335}{1046}{1333}{1095}{7816}
\Dl{1381}{1042}{1378}{1085}{9784}
\Bv{590}{310}{100}\Bv{772}{345}{100}\Bv{585}{665}{100}\Bv{475}{740}{72}\Bv{515}{740}{65}
\Bv{815}{925}{100}\Bv{842}{68}{96}\Bv{830}{565}{100}\Bv{1003}{840}{100}\Bv{1068}{600}{100}
\Bv{1130}{768}{99}\Bv{1250}{958}{100}\Bv{1210}{975}{75}\Bv{1207}{338}{99}\Bv{1190}{470}{73}
\end{scope}
%% ================= zoom 5 : bottom right
\begin{scope}[zoomto={2700}{3000}{1000}{1000}]
\def\dcol{hA}
\Ln (1180,195)--(963,0);
\Ln (1197,270)--(990,75)--(962,98)--(1240,370);
\Ln (975,85)--(895,0);
\Ln (810,42)--(855,0);
\Ln (810,42)--(915,155);
\Ln (1135,335)--(943,137)--(895,180)--(1058,362);
\Ln (1133,392)--(1092,348)--(1047,390)--(1072,425);
\Ln (1060,440)--(1095,410);
\Ln (678,68)--(640,100)--(760,250);
\Ln (590,0)--(660,78);
\Ln (678,68)--(995,493);
\Ln (985,455)--(780,240)--(752,265)--(940,495);
\Ln (882,560)--(475,28)--(498,8)--(940,565);
\Ln (485,20)--(470,0);
\Ln (362,410)--(330,435)--(400,395)--(487,545);
\Ln (330,435)--(567,825);
\Ln (445,570)--(530,520)--(645,705);
\Ln (445,570)--(580,808);
\Ln (208,135)--(362,410);
\Ln (100,220)--(255,545);
\Ln (228,560)--(285,535)--(368,700);
\Ln (228,560)--(332,790);
\Ln (358,755)--(343,718)--(398,695)--(458,810);
\Ln (433,820)--(475,800);
\Ln (568,738)--(645,825);
\Ln (610,722)--(712,675)--(715,695)--(662,735)--(678,770);
\Ln (660,772)--(698,755)--(715,780);
\Ln (660,772)--(682,812);
\Ln (700,725)--(780,662)--(790,680)--(748,712);
\Ln (735,730)--(775,705);
\Ln (790,680)--(830,648)--(835,668)--(800,680);
\Ln (835,660)--(862,640)--(868,655)--(848,668);
\Ln (850,650)--(885,635);
\Ln (-20,425)--(40,420)--(110,590);
\Ln (82,605)--(148,582)--(178,660);
\Ln (82,605)--(278,1120);
\Ln (150,672)--(205,650)--(305,895);
\Ln (150,672)--(290,1025);
\Ln (292,912)--(332,895)--(378,1000);
\Ln (292,912)--(365,1095);
\Ln (-60,210)--(180,1118);
\Ln (-70,300)--(255,1190);
\Ln (45,852)--(118,1078);
\Ln (8,868)--(45,852);
\Ln (8,868)--(92,1145);
\Ln (-108,383)--(40,1125);
\Lb{1180}{215}{HRV-89 (FJ445184)}
\Lb{1200}{290}{HRV-36 (DQ473505)}
\Dl{1264}{397}{1280}{430}{7836}
\Lb{1140}{350}{HRV-58 (FJ445142)}
\Dl{1161}{418}{1175}{455}{12355}
\Dl{1120}{438}{1133}{475}{12296}
\Dl{1087}{469}{1100}{505}{13389}
\Lb{990}{465}{HRV-88 (DQ473504)}
\Lb{998}{525}{HRV-7 (FJ445176)}
\Dl{963}{527}{973}{565}{6831}
\Lb{935}{590}{HRV-53 (DQ473507)}
\Lb{878}{585}{HRV-28 (DQ473508)}
\Dl{905}{666}{918}{700}{3148}
\Dl{877}{702}{888}{740}{26706}
\Dl{827}{712}{838}{750}{8584}
\Dl{794}{736}{805}{775}{9823}
\Dl{757}{762}{768}{800}{14162}
\Dl{735}{813}{745}{853}{15268}
\Dl{702}{848}{710}{885}{26406}
\Dl{664}{872}{670}{910}{23927}
\Lb{572}{833}{HRV-68 (FJ445150)}
\Lb{557}{900}{HRV-20 (FJ445120)}
\Dl{491}{832}{497}{870}{20445}
\Dl{452}{851}{458}{890}{20561}
\Dl{378}{795}{380}{830}{20187}
\Lb{335}{815}{HRV-A101 (GQ415051)}
\Lb{373}{1030}{HRV-A102 (EF155421)}
\Dl{382}{1132}{383}{1170}{14214}
\Lb{280}{1050}{HRV-65 (FJ445147)}
\Lb{268}{1150}{HRV-51 (FJ445136)}
\Lb{248}{1210}{HRV-A103 (JF965515)}
\Lb{170}{1145}{HRV-71 (FJ445152)}
\Lb{107}{1100}{HRV-46 (DQ473506)}
\Dl{105}{1181}{107}{1222}{26826}
\Dl{52}{1165}{52}{1210}{27325}
\Lb{5}{1235}{HRV-80 (FJ445156)}
\Bv{1298}{145}{100}\Bv{892}{98}{77}\Bv{830}{165}{94}\Bv{975}{360}{100}\Bv{1000}{430}{99}
\Bv{580}{85}{90}\Bv{682}{250}{99}\Bv{365}{355}{99}\Bv{490}{482}{96}\Bv{255}{475}{100}
\Bv{122}{530}{93}\Bv{180}{595}{74}\Bv{378}{645}{99}\Bv{452}{730}{100}\Bv{305}{830}{100}
\Bv{30}{795}{99}\Bv{635}{630}{100}\Bv{675}{705}{90}\Bv{715}{633}{73}\Bv{595}{755}{79}
\end{scope}
%% ================= zoom 4 : right lower
\begin{scope}[zoomto={3150}{2300}{1098}{900}]
\def\dcol{hA}
\Ln (372,0)--(358,70)--(582,153);
\Ln (567,218)--(598,90)--(627,95);
\Ln (567,218)--(700,272);
\Ln (617,150)--(640,48)--(665,55);
\Ln (617,150)--(1027,295);
\Ln (662,102)--(678,15)--(795,45);
\Ln (662,102)--(780,143);
\Ln (787,78)--(798,18)--(1070,88);
\Ln (787,78)--(1072,162);
\Ln (1075,65)--(1070,112)--(1085,115);
\Ln (775,163)--(785,120)--(1105,222);
\Ln (775,163)--(1143,285);
\Ln (688,317)--(712,228)--(1052,357);
\Ln (688,317)--(925,420);
\Ln (910,478)--(943,365)--(1030,398);
\Ln (910,478)--(955,497);
\Ln (935,572)--(977,427)--(1237,532);
\Ln (935,572)--(997,602);
\Ln (965,705)--(1030,500);
\Ln (965,705)--(990,718);
\Ln (940,855)--(1037,585)--(1073,600);
\Ln (940,855)--(970,870);
\Ln (1083,575)--(1070,625);
\Ln (1050,668)--(905,1008);
\Ln (1020,735)--(998,808);
\Ln (995,858)--(975,905);
\Ln (932,990)--(862,1113)--(870,1117);
\Ln (870,1113)--(803,1247);
\Ln (718,1235)--(540,1497);
\Ln (718,1235)--(732,1245);
\Ln (258,1132)--(565,1458);
\Ln (215,1193)--(258,1132);
\Ln (215,1193)--(432,1437);
\Ln (172,1232)--(232,1160);
\Ln (178,1165)--(205,1198);
\Ln (178,1165)--(95,1268);
\Ln (135,1218)--(20,1080)--(0,1095);
\Dl{1111}{75}{1143}{95}{20454}
\Dl{1118}{127}{1150}{150}{23876}
\Lb{1085}{180}{HRV-30 (FJ445179)}
\Lb{1118}{240}{HRV-2 (X02316)}
\Dl{1177}{297}{1207}{318}{24782}
\Lb{1037}{312}{HRV-23 (DQ473497)}
\Lb{1067}{370}{HRV-49 (DQ473496)}
\Dl{1064}{411}{1092}{435}{20564}
\Dl{1269}{548}{1297}{575}{20514}
\Dl{1064}{516}{1090}{540}{21418}
\Dl{1115}{591}{1143}{622}{19894}
\Dl{1099}{640}{1125}{668}{21716}
\Dl{1082}{686}{1108}{712}{23597}
\Dl{1067}{733}{1090}{762}{24871}
\Dl{1049}{778}{1072}{812}{23123}
\Dl{1032}{825}{1055}{858}{22091}
\Dl{1027}{877}{1048}{905}{21424}
\Dl{1008}{923}{1030}{955}{23549}
\Dl{976}{960}{998}{995}{22963}
\Dl{964}{1010}{985}{1045}{22871}
\Dl{944}{1054}{963}{1088}{23281}
\Dl{923}{1098}{943}{1130}{232813}
\Dl{902}{1141}{920}{1180}{232834}
\Dl{878}{1185}{895}{1220}{22047}
\Dl{856}{1227}{873}{1265}{232811}
\Dl{832}{1270}{850}{1310}{2328156}
\Dl{762}{1270}{780}{1305}{14157}
\Dl{723}{1298}{742}{1335}{14958}
\Dl{696}{1337}{712}{1375}{14010}
\Dl{672}{1373}{685}{1415}{13783}
\Dl{646}{1413}{662}{1450}{13779}
\Dl{619}{1450}{635}{1490}{13275}
\Dl{592}{1487}{610}{1525}{132491}
\Dl{567}{1523}{580}{1560}{3332}
\Bv{517}{207}{98}\Bv{715}{195}{94}\Bv{635}{322}{77}\Bv{858}{468}{99}\Bv{888}{547}{70}
\Bv{1040}{545}{99}\Bv{918}{762}{92}\Bv{893}{908}{94}\Bv{120}{1150}{99}
\end{scope}
%% ================= zoom 3 : right
\begin{scope}[zoomto={3150}{1450}{1098}{900}]
\def\dcol{hA}
\Ln (805,40)--(595,127)--(610,192)--(1115,0);
\Ln (600,160)--(415,235)--(438,327)--(785,210);
\Ln (427,285)--(393,295);
\Ln (972,105)--(780,172)--(797,245)--(982,187);
\Ln (1005,143)--(975,152)--(990,218)--(1028,210);
\Ln (1030,185)--(1025,205)--(1035,230);
\Ln (460,725)--(530,715);
\Ln (510,500)--(530,715)--(540,935)--(563,935);
\Ln (558,775)--(563,935)--(558,1088)--(590,1090);
\Ln (510,500)--(612,478);
\Ln (825,390)--(610,440)--(618,510)--(1095,408);
\Ln (1020,305)--(825,358)--(832,422)--(1028,375);
\Ln (1112,257)--(1020,283)--(1026,327)--(1112,305);
\Ln (558,775)--(735,762);
\Ln (778,688)--(735,692)--(742,830)--(913,820);
\Ln (820,627)--(778,630)--(785,745)--(1095,720);
\Ln (850,567)--(817,573)--(826,680)--(1180,637);
\Ln (972,503)--(848,525)--(858,612)--(1155,567);
\Ln (1113,452)--(970,480)--(975,525)--(1135,497);
\Ln (1183,538)--(1152,543)--(1156,590)--(1180,592);
\Ln (1213,685)--(1095,695)--(1097,742)--(1238,730);
\Ln (1120,788)--(913,800)--(913,845)--(1118,835);
\Ln (855,1030)--(593,1018)--(586,1165)--(710,1180);
\Ln (1118,985)--(855,980)--(853,1078)--(908,1085);
\Ln (1163,940)--(1118,942)--(1118,1025)--(1210,1030);
\Ln (1178,905)--(1163,905)--(1163,980)--(1185,982);
\Ln (1220,880)--(1178,882)--(1178,928)--(1190,932);
\Ln (1110,1073)--(908,1062)--(908,1105)--(1210,1128);
\Ln (1138,1170)--(716,1132)--(707,1228)--(963,1268);
\Ln (1132,1218)--(970,1200)--(958,1332)--(1152,1368);
\Ln (1170,1300)--(1142,1515);
\Ln (1162,1295)--(1158,1320);
\Ln (1162,1370)--(1148,1440);
\Lb{990}{110}{HRV-38 (FJ445180)}
\Dl{1040}{130}{1075}{128}{25233}
\Dl{1064}{170}{1100}{170}{6820}
\Dl{1069}{220}{1103}{217}{7991}
\Dl{1147}{247}{1183}{240}{6699s}
\Dl{1148}{297}{1183}{295}{8693}
\Lb{1045}{382}{HRV-10 (FJ445178)}
\Lb{1112}{420}{HRV-100 (FJ445175)}
\Lb{1132}{465}{HRV-44 (DQ473499)}
\Lb{1152}{510}{HRV-29 (FJ445125)}
\Dl{1217}{533}{1253}{540}{19983}
\Dl{1216}{584}{1252}{590}{21298}
\Dl{1213}{633}{1248}{640}{197284}
\Dl{1250}{681}{1285}{688}{20101}
\Dl{1274}{728}{1310}{733}{20943}
\Lb{1140}{800}{HRV-62 (FJ445145)}
\Lb{1135}{848}{HRV-25 (FJ445123)}
\Dl{1254}{881}{1288}{890}{22008}
\Dl{1227}{932}{1260}{942}{22432}
\Dl{1220}{980}{1255}{993}{24168}
\Dl{1243}{1032}{1277}{1045}{21696}
\Lb{1125}{1088}{HRV-47 (FJ445133)}
\Lb{1225}{1142}{HRV-31 (FJ445126)}
\Lb{1153}{1185}{HRV-66 (FJ445148)}
\Lb{1148}{1235}{HRV-77 (FJ445154)}
\Dl{1209}{1277}{1242}{1295}{10175}
\Dl{1198}{1327}{1230}{1345}{12334}
\Dl{1197}{1376}{1228}{1395}{2341}
\Dl{1190}{1425}{1222}{1445}{24529s}
\Dl{1183}{1472}{1215}{1495}{24775}
\Dl{1176}{1522}{1208}{1545}{BER22}
\Bv{465}{70}{84}\Bv{545}{145}{93}\Bv{743}{300}{100}\Bv{760}{370}{100}\Bv{935}{275}{100}\Bv{960}{290}{100}\Bv{995}{290}{96}
\Bv{558}{455}{72}\Bv{918}{475}{94}\Bv{1098}{650}{100}\Bv{727}{660}{77}\Bv{685}{732}{99}\Bv{1038}{795}{100}
\Bv{865}{898}{97}\Bv{1110}{908}{94}\Bv{1057}{948}{100}\Bv{793}{992}{100}\Bv{855}{1153}{73}\Bv{655}{1245}{85}
\Bv{895}{1330}{100}\Bv{1083}{1428}{100}\Bv{752}{1480}{75}\Bv{1018}{1520}{100}
\end{scope}
%% ================= zoom 2 : right upper
\begin{scope}[zoomto={3150}{600}{1098}{900}]
\def\dcol{hA}
\Ln (225,62)--(248,95);
\Ln (258,122)--(285,135)--(250,155);
\Ln (262,178)--(300,150)--(315,178);
\Ln (262,178)--(330,250)--(360,220);
\Ln (378,225)--(350,195)--(365,175);
\Ln (295,215)--(150,408)--(218,490)--(345,320);
\Ln (185,450)--(25,658)--(77,718)--(362,378);
\Ln (50,690)--(-45,795);
\Ln (410,388)--(142,695)--(182,750)--(232,695);
\Ln (420,437)--(215,668)--(255,720)--(410,555);
\Ln (458,458)--(393,522)--(430,578)--(470,538);
\Ln (510,465)--(460,518)--(485,552)--(512,525);
\Ln (160,725)--(33,872)--(0,830)--(-45,795);
\Ln (632,468)--(122,968)--(152,1010)--(369,807);
\Ln (587,570)--(360,793)--(378,820)--(615,600);
\Ln (137,990)--(103,1022)--(22,950);
\Ln (617,660)--(230,1012)--(245,1040)--(725,625);
\Ln (237,1025)--(175,1078)--(208,1140)--(400,980);
\Ln (630,762)--(392,965)--(410,997)--(665,790);
\Ln (190,1108)--(155,1140);
\Ln (675,838)--(690,860)--(685,880);
\Ln (696,890)--(692,925);
\Ln (685,898)--(660,920)--(688,988)--(830,888);
\Ln (668,955)--(415,1140)--(443,1208)--(685,1045);
\Ln (428,1172)--(262,1290)--(280,1388)--(335,1365);
\Ln (913,942)--(385,1292)--(397,1325)--(803,1068);
\Ln (390,1310)--(345,1335)--(362,1385)--(872,1080);
\Ln (352,1358)--(322,1380)--(375,1518)--(487,1460);
\Ln (878,1128)--(843,1150)--(858,1192)--(918,1160);
\Ln (850,1170)--(663,1275)--(685,1335)--(915,1215);
\Ln (675,1305)--(472,1415)--(502,1502)--(705,1405);
\Ln (943,1248)--(695,1378)--(713,1435)--(925,1335);
\Ln (912,1345)--(915,1315)--(935,1310);
\Ln (915,1345)--(942,1355);
\Ln (1108,1330)--(970,1385)--(980,1432)--(1143,1365);
\Ln (975,1410)--(800,1490)--(815,1552)--(1110,1433);
\Ln (340,1455)--(300,1475);
\Ln (271,1340)--(255,1352);
\Ln (340,1450)--(322,1380);
\Lb{385}{285}{HRV-40 (FJ445129)}
\Lb{375}{375}{HRV-85 (FJ445163)}
\Lb{420}{385}{HRV-98 (FJ445173)}
\Lb{435}{435}{HRV-54 (FJ445138)}
\Dt{339}{130}\Lb{365}{105}{8163}
\Dt{388}{140}\Lb{412}{115}{16083}
\Dt{401}{193}\Lb{428}{170}{16147}
\Dt{317}{90}\Lb{342}{65}{14798}
\Dt{282}{63}\Lb{308}{40}{22836}
\Dt{250}{32}\Lb{276}{8}{22471}
\Dt{222}{10}\Lb{248}{-14}{20940}
\Dl{484}{428}{512}{405}{9672}
\Dl{539}{433}{567}{415}{16718}
\Dl{534}{498}{562}{485}{R1191}
\Lb{645}{465}{HRV-39 (AY751783)}
\Lb{602}{568}{HRV-60 (FJ445143)}
\Dl{644}{575}{672}{560}{Bt23}
\Lb{633}{662}{HRV-50 (FJ445135)}
\Lb{742}{625}{HRV-18 (FJ445118)}
\Lb{645}{765}{HRV-1 (FJ445111)}
\Dl{692}{767}{722}{752}{22047s}
\Dl{698}{818}{730}{810}{24577}
\Dl{720}{856}{752}{850}{24709}
\Dl{737}{900}{768}{890}{9086}
\Dl{857}{867}{890}{860}{3581}
\Lb{702}{1050}{HRV-56 (FJ445140)}
\Lb{930}{950}{HRV-63 (FJ445146)}
\Lb{822}{1075}{HRV-59 (DQ473500)}
\Lb{890}{1085}{HRV-34 (FJ445189)}
\Dl{909}{1110}{942}{1105}{6699}
\Dl{949}{1140}{985}{1138}{25025}
\Lb{935}{1222}{HRV-75 (DQ473510)}
\Lb{960}{1258}{HRV-43 (FJ445131)}
\Dl{959}{1291}{992}{1288}{9218}
\Dl{974}{1336}{1008}{1338}{198942}
\Dl{1141}{1312}{1175}{1315}{9560}
\Dl{1177}{1352}{1212}{1355}{10980}
\Lb{1128}{1448}{HRV-81 (FJ445157)}
\Lb{1133}{1495}{HRV-16 (L24917)}
\Bv{190}{108}{87}\Bv{233}{240}{100}\Bv{370}{300}{73}\Bv{122}{480}{100}
\Bv{402}{655}{100}\Bv{478}{625}{97}\Bv{240}{785}{72}\Bv{165}{818}{96}\Bv{360}{908}{100}
\Bv{620}{852}{75}\Bv{630}{897}{95}\Bv{600}{958}{100}\Bv{392}{1070}{98}\Bv{370}{1172}{90}
\Bv{778}{1160}{100}\Bv{615}{1295}{99}\Bv{905}{1395}{100}\Bv{875}{1430}{100}\Bv{678}{1495}{99}\Bv{748}{1505}{99}
\end{scope}
%% ================= upper right middle
\begin{scope}[zoomto={2850}{550}{500}{650}]
\Ln (115,788)--(352,915)--(400,860);
\Ln (915,62)--(365,720)--(418,750)--(1060,10);
\Ln (390,738)--(320,818)--(478,905)--(630,745);
\Ln (720,550)--(578,708)--(685,772)--(948,505);
\Ln (1155,15)--(690,532)--(750,565)--(1155,125);
\Ln (1250,135)--(918,482)--(980,517)--(1318,172);
\Ln (0,770)--(215,878)--(232,858);
\Ln (900,1275)--(860,1305)--(1113,1535);
\Ln (985,1420)--(948,1445)--(1040,1535);
\Bv{605}{465}{99}\Bv{608}{585}{90}\Bv{985}{625}{99}\Bv{665}{870}{81}\Bv{885}{1100}{81}
\end{scope}
\begin{scope}[zoomto={0}{0}{4248}{4248}]
\def\dcol{hA}
\Lb{1164}{210}{HRV-96 (FJ445171)}
\Lb{1173}{213}{HRV-67 (FJ445127)}
\Lb{1181}{216}{HRV-32 (FJ445149)}
\Lb{1189}{219}{HRV-9 (FJ445177)}
\Dl{1199}{214}{1206}{207}{21314}
\end{scope}
%% ================= zoom 1 : top
\begin{scope}[zoomto={2100}{0}{1100}{900}]
\def\dcol{hA}
\Ln (98,445)--(125,445)--(125,818)--(98,818);
\Ln (167,448)--(168,558)--(205,558)--(206,445);
\Ln (187,558)--(185,706)--(238,708)--(243,540);
\Ln (212,707)--(205,1082)--(260,1085)--(283,462);
\Ln (232,1083)--(230,1123)--(312,1128)--(318,1022);
\Ln (318,552)--(296,1020)--(340,1024)--(378,520);
\Ln (358,518)--(397,522);
\Ln (270,1126)--(270,1155)--(417,1170)--(428,1080);
\Ln (441,466)--(385,1072)--(470,1083)--(492,915);
\Ln (480,455)--(448,775)--(484,780)--(520,458);
\Ln (466,778)--(450,908)--(532,920)--(597,478);
\Ln (558,468)--(636,488);
\Ln (342,1160)--(340,1202)--(598,1252)--(596,1235);
\Ln (662,570)--(643,690)--(678,695)--(703,560);
\Ln (660,693)--(565,1235)--(632,1252)--(720,830);
\Ln (739,578)--(690,822)--(750,838)--(795,630);
\Ln (770,605)--(770,628)--(828,640);
\Ln (808,632)--(828,625);
\Ln (848,612)--(848,637)--(800,628);
\Ln (467,1225)--(462,1288);
\Ln (885,632)--(760,1130)--(793,1140)--(925,640);
\Ln (775,1135)--(728,1312)--(772,1332)--(943,718);
\Ln (1017,598)--(890,1040)--(917,1050)--(1038,670);
\Ln (903,1045)--(825,1300)--(893,1333)--(910,1287);
\Ln (1100,607)--(885,1275)--(938,1300)--(1000,1130);
\Ln (1110,700)--(972,1115)--(1028,1145)--(1083,995);
\Ln (1153,703)--(1055,980)--(1112,1008)--(1208,757);
\Ln (1192,708)--(1180,742)--(1235,772)--(1254,705);
\Ln (1237,705)--(1275,730);
\Ln (750,1322)--(745,1322)--(843,1370)--(860,1316);
\Ln (790,1345)--(780,1390);
\Ln (1265,820)--(1048,1372)--(1075,1388)--(1303,865);
\Ln (1062,1380)--(1017,1480)--(1090,1530)--(1080,1565);
\Ln (1378,797)--(1133,1342)--(1160,1355)--(1418,812);
\Ln (1147,1348)--(1117,1410)--(1155,1440)--(1430,880);
\Ln (1458,915)--(1320,1195)--(1345,1210)--(1503,917);
\Ln (1136,1425)--(1120,1465)--(1175,1505)--(1332,1202);
\Ln (1147,1485)--(1125,1528);
\node[supn,font=\supf\fontsize{12}{14}\selectfont] (zero) at (97,642) {\rotatebox{90}{0}};
\Dl{167}{405}{175}{360}{20479r}
\Dl{207}{400}{217}{355}{27211}
\Lb{255}{522}{HRV-33 (FJ445128)}
\Lb{293}{445}{HRV-11 (EF173414)}
\Lb{330}{535}{HRV-76 (FJ445182)}
\Dl{360}{475}{373}{435}{11353}
\Dl{400}{480}{412}{440}{15440}
\Lb{452}{450}{HRV-90 (FJ445167)}
\Lb{492}{437}{HRV-24 (FJ445190)}
\Dl{525}{415}{537}{375}{12349}
\Dl{565}{427}{578}{390}{6050}
\Dl{602}{435}{615}{398}{23121}
\Dl{641}{446}{655}{408}{23482}
\Lb{682}{565}{HRV-57 (FJ445141)}
\Dl{710}{517}{728}{478}{25266}
\Lb{752}{565}{HRV-21 (FJ445121)}
\Dl{781}{563}{797}{525}{21377}
\Dl{818}{583}{832}{545}{15586}
\Dl{860}{573}{877}{537}{20937}
\Lb{900}{620}{HRV-74 (DQ473494)}
\Lb{940}{625}{HRV-15 (DQ473493)}
\Lb{958}{705}{HRV-19 (FJ445119)}
\Lb{1032}{585}{HRV-94 (FJ445185)}
\Dl{1050}{630}{1070}{595}{22084}
\Lb{1115}{595}{HRV-64 (FJ445181)}
\Dl{1125}{660}{1145}{630}{24529}
\Lb{1170}{690}{HRV-22 (FJ445122)}
\Dl{1209}{665}{1230}{637}{2385}
\Dl{1252}{670}{1275}{635}{14169}
\Dl{1289}{690}{1312}{660}{15019}
\Lb{1300}{785}{HRV-82 (FJ445160)}
\Lb{1318}{852}{HRV-61 (FJ445144)}
\Lb{1395}{790}{HRV-41 (DQ473491)}
\Lb{1435}{803}{HRV-13 (FJ445116)}
\Lb{1445}{870}{HRV-55 (DQ473511)}
\Lb{1475}{905}{HRV-73 (DQ473492)}
\Dl{1522}{880}{1548}{855}{26935}
\Bv{155}{635}{100}\Bv{183}{778}{100}\Bv{430}{597}{100}\Bv{428}{835}{95}\Bv{543}{985}{94}
\Bv{645}{563}{100}\Bv{617}{757}{100}\Bv{838}{722}{100}\Bv{765}{918}{100}\Bv{860}{1088}{99}
\Bv{730}{1180}{82}\Bv{1032}{1215}{95}\Bv{1115}{1078}{96}\Bv{1230}{855}{100}\Bv{1285}{805}{100}
\end{scope}
%% trunk labels
\begin{scope}[zoomto={1500}{1400}{1300}{1300}]
\Bv{484}{40}{89}\Bv{776}{1405}{95}\Bv{80}{1540}{99}
\end{scope}
\node[supn] (lblA) at (2595,3010) {\rotatebox{72}{100}};
%% clade captions
\node[capn,text=hE] (capE) at (2057,1412) {EV};
\node[capn,text=hB] (capB) at (1493,1962) {HRV-B};
\node[capn,text=hC] (capC) at (1838,2698) {HRV-C};
\node[capn,text=hA] (capA) at (2775,2728) {HRV-A};
\end{tikzpicture}
\end{document}
